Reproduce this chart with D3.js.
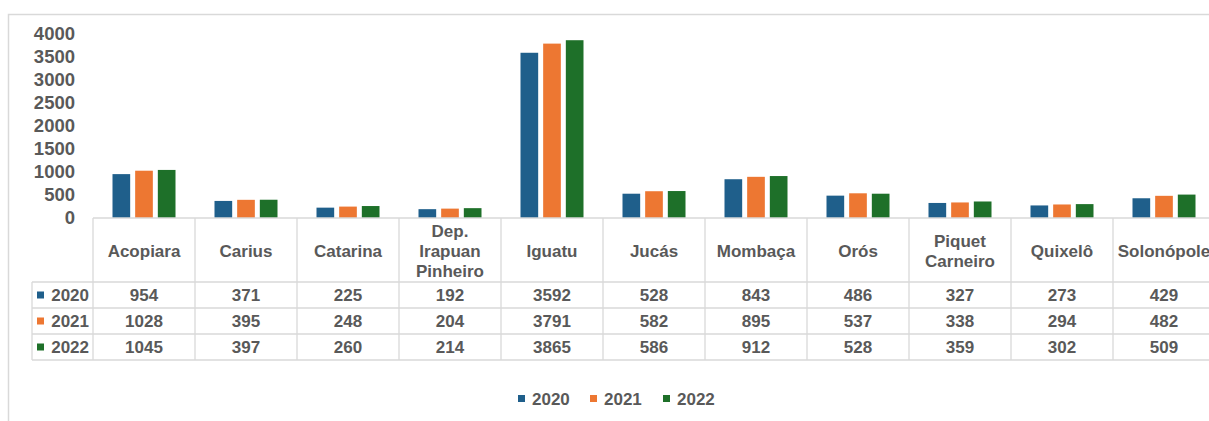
<!DOCTYPE html>
<html>
<head>
<meta charset="utf-8">
<script src="https://cdn.jsdelivr.net/npm/d3@7"></script>
<style>
  body { margin: 0; background: #fff; }
  svg { display: block; font-family: "Liberation Sans", Arial, sans-serif; }
</style>
</head>
<body>
<svg id="chart" width="1209" height="421"></svg>
<script>
// data
var categories = ["Acopiara", "Carius", "Catarina", "Dep.\nIrapuan\nPinheiro", "Iguatu", "Jucás",
   "Mombaça", "Orós", "Piquet\nCarneiro", "Quixelô", "Solonópole"]
var years = ["2020", "2021", "2022"]
var values2020 = [954, 371, 225, 192, 3592, 528, 843, 486, 327, 273, 429]
var values2021 = [1028, 395, 248, 204, 3791, 582, 895, 537, 338, 294, 482]
var values2022 = [1045, 397, 260, 214, 3865, 586, 912, 528, 359, 302, 509]
var yTicks = [0, 500, 1000, 1500, 2000, 2500, 3000, 3500, 4000]
var colors = ["#1f5f8b", "#ed7732", "#1e7029"]

var series = [values2020, values2021, values2022]
var dataset = categories.map((c, i) => ({ cat: c, vals: series.map(s => s[i]) }))

var svg = d3.select("#chart")
var textColor = "#595959"
var lineColor = "#d9d9d9"
var fontSize = "17px"

var plotLeft = 93, colW = 102
var baseY = 218, topY = 34
var headerBottom = 282, rowH = 26
var rowLeft = 32

// outer frame
svg.append("rect")
   .attr("x", 8.5).attr("y", 14.5)
   .attr("width", 1300).attr("height", 500)
   .attr("fill", "none")
   .attr("stroke", lineColor)
   .attr("stroke-width", 1.5)

var x0 = d3.scaleBand().domain(categories).range([plotLeft, plotLeft + colW * categories.length])
var x1 = d3.scaleBand().domain(years).range([19.5, 82.5]).paddingInner(0.22)
var y = d3.scaleLinear().domain([0, 4000]).range([baseY, topY])

var yAxis = d3.axisLeft(y).tickValues(yTicks).tickFormat(d3.format("d")).tickSize(0).tickPadding(18)
var yg = svg.append("g")
   .attr("class", "y-axis")
   .attr("transform", "translate(" + plotLeft + ",0)")
   .call(yAxis)
yg.select(".domain").remove()
yg.selectAll("text")
   .attr("fill", textColor)
   .style("font-size", "18.5px")
   .style("font-weight", "bold")

// bars
var groups = svg.append("g").selectAll("g")
   .data(dataset)
   .join("g")
   .attr("transform", d => "translate(" + x0(d.cat) + ",0)")

groups.selectAll("rect")
   .data(d => d.vals.map((v, i) => ({ year: years[i], v: v, i: i })))
   .join("rect")
   .attr("x", d => x1(d.year))
   .attr("y", d => y(d.v))
   .attr("width", x1.bandwidth())
   .attr("height", d => baseY - y(d.v))
   .attr("fill", d => colors[d.i])

// data table
var tableBottom = headerBottom + rowH * years.length
var tableRight = plotLeft + colW * categories.length
var grid = svg.append("g").attr("stroke", lineColor).attr("stroke-width", 1.3)

grid.append("line").attr("x1", plotLeft).attr("x2", tableRight).attr("y1", baseY).attr("y2", baseY)
d3.range(years.length + 1).forEach(function(r) {
   var yy = headerBottom + r * rowH
   grid.append("line").attr("x1", rowLeft).attr("x2", tableRight).attr("y1", yy).attr("y2", yy)
})
grid.append("line").attr("x1", rowLeft).attr("x2", rowLeft).attr("y1", headerBottom).attr("y2", tableBottom)
categories.concat([null]).forEach(function(c, i) {
   var xx = plotLeft + i * colW
   grid.append("line").attr("x1", xx).attr("x2", xx).attr("y1", baseY).attr("y2", tableBottom)
})

// category header labels
var headerMid = (baseY + headerBottom) / 2 + 1
svg.append("g").selectAll("text")
   .data(categories)
   .join("text")
   .attr("x", d => x0(d) + x0.bandwidth() / 2)
   .attr("text-anchor", "middle")
   .attr("fill", textColor)
   .style("font-size", fontSize)
   .style("font-weight", "bold")
   .each(function(d) {
      var lines = d.split("\n")
      var t = d3.select(this)
      lines.forEach(function(l, k) {
         t.append("tspan")
            .attr("x", x0(d) + x0.bandwidth() / 2)
            .attr("y", headerMid + (k - (lines.length - 1) / 2) * 20)
            .attr("dy", "0.35em")
            .text(l)
      })
   })

// row headers with keys
years.forEach(function(yr, r) {
   var cy = headerBottom + r * rowH + rowH / 2
   svg.append("rect")
      .attr("x", 37).attr("y", cy - 3.5)
      .attr("width", 7).attr("height", 7)
      .attr("fill", colors[r])
   svg.append("text")
      .attr("x", 89).attr("y", cy).attr("dy", "0.36em")
      .attr("text-anchor", "end")
      .attr("fill", textColor)
      .style("font-size", fontSize)
      .style("font-weight", "bold")
      .text(yr)
   svg.append("g").selectAll("text")
      .data(dataset)
      .join("text")
      .attr("x", d => x0(d.cat) + x0.bandwidth() / 2)
      .attr("y", cy).attr("dy", "0.36em")
      .attr("text-anchor", "middle")
      .attr("fill", textColor)
      .style("font-size", fontSize)
      .style("font-weight", "bold")
      .text(d => d.vals[r])
})

// legend
var legendX = [518, 590, 663]
var legend = svg.append("g")
years.forEach(function(yr, i) {
   legend.append("rect")
      .attr("x", legendX[i]).attr("y", 395)
      .attr("width", 7).attr("height", 7)
      .attr("fill", colors[i])
   legend.append("text")
      .attr("x", legendX[i] + 14).attr("y", 398.5).attr("dy", "0.36em")
      .attr("fill", textColor)
      .style("font-size", fontSize)
      .style("font-weight", "bold")
      .text(yr)
})
</script>
</body>
</html>
